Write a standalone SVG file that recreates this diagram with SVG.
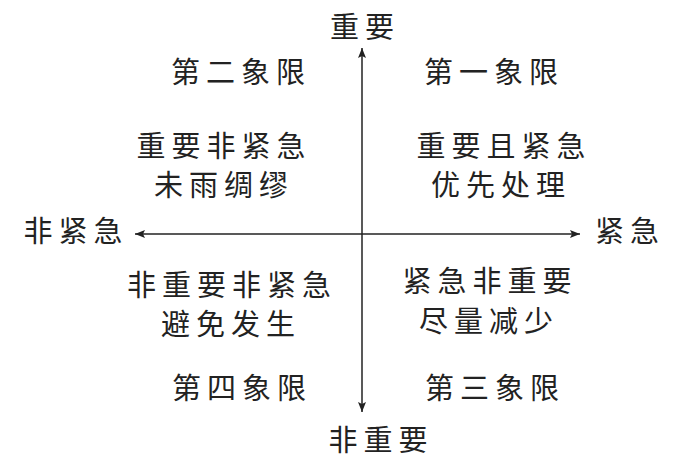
<svg xmlns="http://www.w3.org/2000/svg" width="673" height="466" viewBox="0 0 673 466">
<style>
text{font-family:"Noto Sans CJK SC","Noto Sans CJK JP",sans-serif;font-size:29px;fill:#222;text-anchor:middle;letter-spacing:6px}
.ax{stroke:#222;stroke-width:1.5;fill:none}
</style>
<defs>
<marker id="ah" viewBox="0 0 10 8" refX="10" refY="4" markerWidth="10" markerHeight="8" markerUnits="userSpaceOnUse" orient="auto-start-reverse">
<path d="M0,0 L10,4 L0,8 L2,4 Z" fill="#222"/>
</marker>
</defs>
<rect width="673" height="466" fill="#fff"/>
<g id="connectors">
<line class="ax" x1="362" y1="412" x2="362" y2="48" marker-start="url(#ah)" marker-end="url(#ah)"/>
<line class="ax" x1="135" y1="234" x2="580" y2="234" marker-start="url(#ah)" marker-end="url(#ah)"/>
</g>
<g id="axis-important"><text x="365" y="38">重要</text></g>
<g id="axis-not-important"><text x="381" y="451">非重要</text></g>
<g id="axis-not-urgent"><text x="76" y="242">非紧急</text></g>
<g id="axis-urgent"><text x="630" y="242">紧急</text></g>
<g id="q2">
<text x="241" y="83">第二象限</text>
<text x="224" y="157">重要非紧急</text>
<text x="224" y="196">未雨绸缪</text>
</g>
<g id="q1">
<text x="494" y="83">第一象限</text>
<text x="504" y="157">重要且紧急</text>
<text x="501" y="196">优先处理</text>
</g>
<g id="q4">
<text x="232" y="296">非重要非紧急</text>
<text x="231" y="335">避免发生</text>
<text x="242" y="399">第四象限</text>
</g>
<g id="q3">
<text x="490" y="292">紧急非重要</text>
<text x="489" y="332">尽量减少</text>
<text x="495" y="399">第三象限</text>
</g>
</svg>
